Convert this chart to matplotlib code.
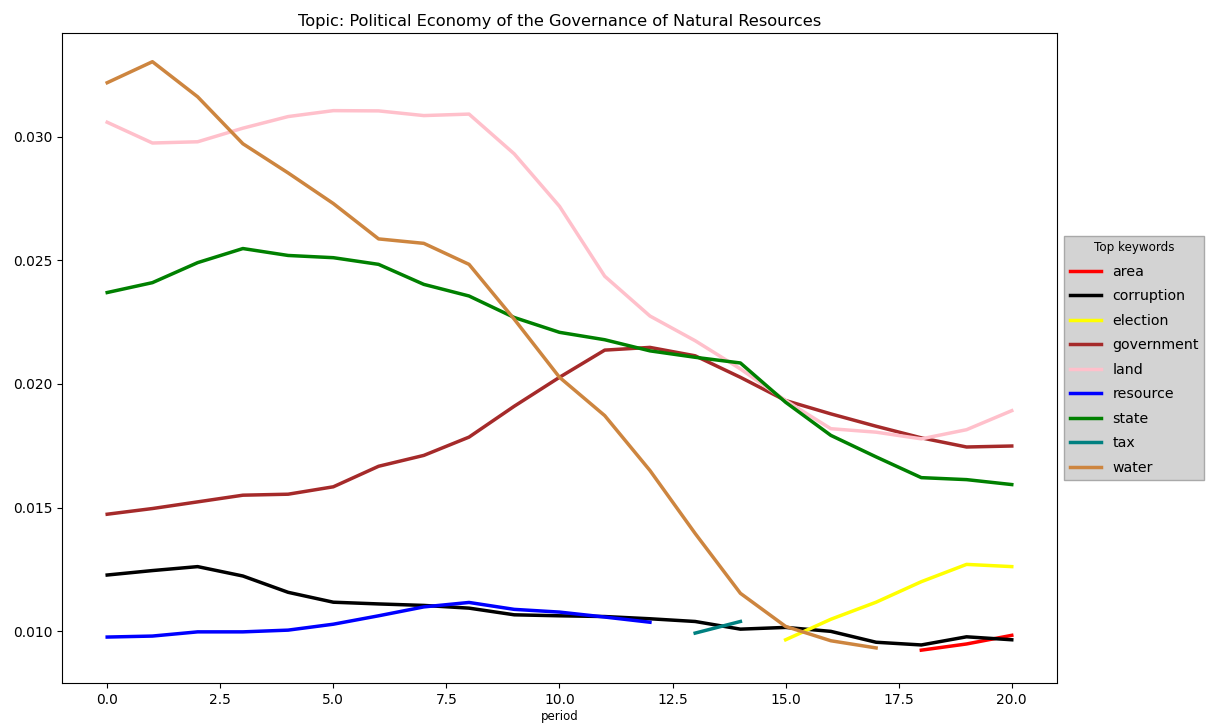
"""Top keyword weights over periods for one topic."""

import matplotlib

matplotlib.use("Agg")
import matplotlib.pyplot as plt

title = "Topic: Political Economy of the Governance of Natural Resources"

area_x = [18, 19, 20]
area = [0.00923, 0.00948, 0.00983]

corruption_x = list(range(21))
corruption = [0.01227, 0.01245, 0.01261, 0.01223, 0.01157, 0.01117, 0.01110,
              0.01104, 0.01093, 0.01066, 0.01062, 0.01059, 0.01050, 0.01039,
              0.01008, 0.01015, 0.00999, 0.00955, 0.00944, 0.00977, 0.00965]

election_x = [15, 16, 17, 18, 19, 20]
election = [0.00965, 0.01048, 0.01117, 0.01200, 0.01270, 0.01261]

government_x = list(range(21))
government = [0.01473, 0.01496, 0.01523, 0.01550, 0.01554, 0.01584, 0.01667,
              0.01711, 0.01785, 0.01910, 0.02027, 0.02137, 0.02148, 0.02114,
              0.02027, 0.01933, 0.01879, 0.01829, 0.01782, 0.01745, 0.01749]

land_x = list(range(21))
land = [0.03059, 0.02975, 0.02980, 0.03035, 0.03082, 0.03106, 0.03105,
        0.03086, 0.03092, 0.02931, 0.02719, 0.02436, 0.02275, 0.02175,
        0.02061, 0.01933, 0.01819, 0.01805, 0.01778, 0.01815, 0.01892]

resource_x = list(range(13))
resource = [0.00976, 0.00980, 0.00997, 0.00997, 0.01004, 0.01028, 0.01062,
            0.01098, 0.01116, 0.01088, 0.01077, 0.01057, 0.01036]

state_x = list(range(21))
state = [0.02370, 0.02410, 0.02491, 0.02548, 0.02520, 0.02511, 0.02484,
         0.02403, 0.02356, 0.02269, 0.02209, 0.02179, 0.02134, 0.02108,
         0.02085, 0.01926, 0.01792, 0.01705, 0.01621, 0.01613, 0.01593]

tax_x = [13, 14]
tax = [0.00992, 0.01039]

water_x = list(range(18))
water = [0.03219, 0.03304, 0.03162, 0.02972, 0.02854, 0.02730, 0.02587,
         0.02569, 0.02484, 0.02262, 0.02027, 0.01872, 0.01650, 0.01395,
         0.01153, 0.01019, 0.00961, 0.00932]

series = [
    ("area", area_x, area, "red"),
    ("corruption", corruption_x, corruption, "black"),
    ("election", election_x, election, "yellow"),
    ("government", government_x, government, "brown"),
    ("land", land_x, land, "pink"),
    ("resource", resource_x, resource, "blue"),
    ("state", state_x, state, "green"),
    ("tax", tax_x, tax, "teal"),
    ("water", water_x, water, "peru"),
]

fig = plt.figure(figsize=(12.08, 7.26), dpi=100)
ax = fig.add_axes([0.0513, 0.0592, 0.8237, 0.8953])

for name, xs, ys, color in series:
    ax.plot(xs, ys, color=color, lw=2.5, label=name)

ax.set_xlim(-1.0, 21.0)
ax.set_ylim(0.0079, 0.0342)
ax.set_xlabel("period", fontsize=8.5, labelpad=2)
ax.set_title(title, fontsize=11.7, pad=5)
ax.tick_params(labelsize=10)

leg = ax.legend(title="Top keywords", loc="center left",
                bbox_to_anchor=(1.0, 0.5), fontsize=10.2,
                title_fontsize=8.6, facecolor="lightgray", edgecolor="darkgray",
                framealpha=1.0, fancybox=False, labelspacing=0.74,
                handlelength=2.2)

fig.savefig("out.png", dpi=100)
plt.close(fig)
